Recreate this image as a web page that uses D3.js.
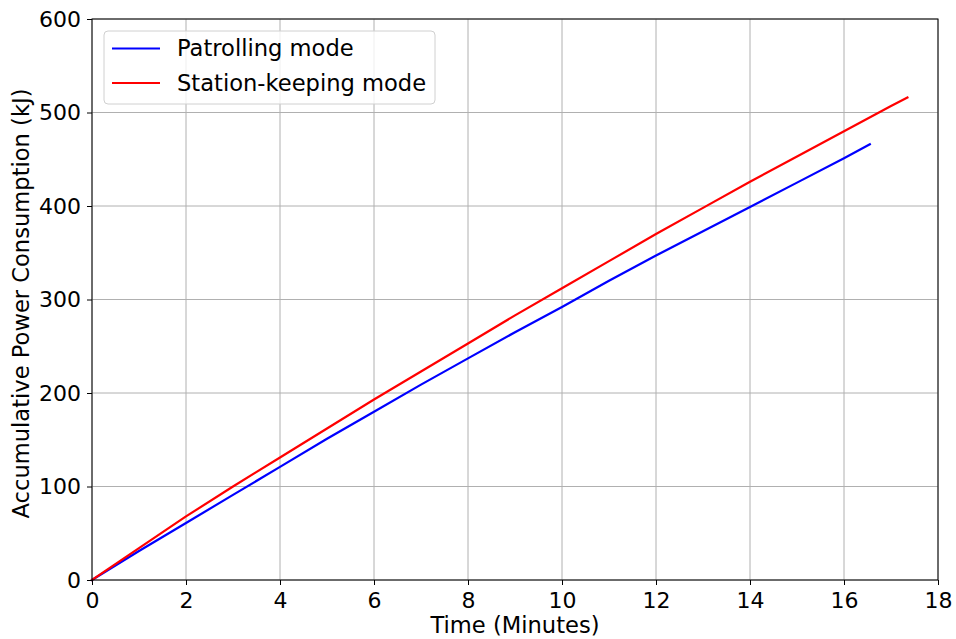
<!DOCTYPE html>
<html>
<head>
<meta charset="utf-8">
<script src="https://cdn.jsdelivr.net/npm/d3@7"></script>
<style>
  body { margin: 0; background: #fff; }
  text { font-family: "DejaVu Sans", sans-serif; }
</style>
</head>
<body>
<div id="chart"></div>
<script>
// data (minutes, kJ)
var patrolTime = [0, 1, 2, 3, 4, 5, 6, 7, 8, 9, 10, 11, 12, 13, 14, 15, 16, 16.55];
var patrolEnergy = [0, 31, 61, 91, 121, 151, 180, 209, 237, 265, 292, 320, 347, 373, 399, 425, 451, 466];
var stationTime = [0, 1, 2, 3, 4, 5, 6, 7, 8, 9, 10, 11, 12, 13, 14, 15, 16, 17, 17.35];
var stationEnergy = [0, 34, 68, 100, 131, 162, 193, 223, 253, 283, 312, 341, 370, 398, 426, 453, 480, 507, 516];
var xTicks = [0, 2, 4, 6, 8, 10, 12, 14, 16, 18];
var yTicks = [0, 100, 200, 300, 400, 500, 600];
var seriesNames = ["Patrolling mode", "Station-keeping mode"];
var seriesColors = ["#0000ff", "#ff0000"];

var fontSize = "22.6px";
var margin = { top: 19, right: 18, bottom: 59, left: 92 },
  width = 956 - margin.left - margin.right,
  height = 639 - margin.top - margin.bottom;

var svg = d3.select("#chart")
  .append("svg")
  .attr("width", 956)
  .attr("height", 639)
  .append("g")
  .attr("transform", "translate(" + margin.left + "," + margin.top + ")");

var x = d3.scaleLinear().domain([0, 18]).range([0, width]);
var y = d3.scaleLinear().domain([0, 600]).range([height, 0]);

// grid
svg.selectAll("vgrid").data(xTicks).enter().append("line")
  .attr("x1", d => x(d)).attr("x2", d => x(d))
  .attr("y1", 0).attr("y2", height)
  .style("stroke", "#b0b0b0").style("stroke-width", 1);
svg.selectAll("hgrid").data(yTicks).enter().append("line")
  .attr("x1", 0).attr("x2", width)
  .attr("y1", d => y(d)).attr("y2", d => y(d))
  .style("stroke", "#b0b0b0").style("stroke-width", 1);

// lines
var series = [
  patrolTime.map((t, i) => [t, patrolEnergy[i]]),
  stationTime.map((t, i) => [t, stationEnergy[i]])
];
var line = d3.line().x(d => x(d[0])).y(d => y(d[1]));
svg.selectAll("series").data(series).enter().append("path")
  .attr("d", line)
  .style("fill", "none")
  .style("stroke", (d, i) => seriesColors[i])
  .style("stroke-width", 2.2)
  .style("stroke-linecap", "square");

// axes
var xAxis = svg.append("g")
  .attr("transform", "translate(0," + height + ")")
  .call(d3.axisBottom(x).tickValues(xTicks).tickSize(5).tickPadding(7));
var yAxis = svg.append("g")
  .call(d3.axisLeft(y).tickValues(yTicks).tickSize(5).tickPadding(6));
[xAxis, yAxis].forEach(function (a) {
  a.select(".domain").remove();
  a.selectAll("text").style("font-size", "22px").style("fill", "#000")
    .style("font-family", "DejaVu Sans");
  a.selectAll("line").style("stroke", "#000").style("stroke-width", 1);
});

// frame
svg.append("rect")
  .attr("width", width).attr("height", height)
  .style("fill", "none").style("stroke", "#000").style("stroke-width", 1);

// axis labels
svg.append("text")
  .attr("x", width / 2).attr("y", height + 53)
  .style("text-anchor", "middle").style("font-size", fontSize)
  .text("Time (Minutes)");
svg.append("text")
  .attr("transform", "rotate(-90)")
  .attr("x", -height / 2 - 4).attr("y", -63)
  .style("text-anchor", "middle").style("font-size", fontSize)
  .text("Accumulative Power Consumption (kJ)");

// legend
var legend = svg.append("g").attr("transform", "translate(12,12)");
legend.append("rect")
  .attr("width", 331).attr("height", 73).attr("rx", 4)
  .style("fill", "#fff").style("fill-opacity", 0.8)
  .style("stroke", "#d0d0d0").style("stroke-width", 1);
legend.selectAll("lline").data(seriesNames).enter().append("line")
  .attr("x1", 8).attr("x2", 56)
  .attr("y1", (d, i) => 17.5 + i * 34.5).attr("y2", (d, i) => 17.5 + i * 34.5)
  .style("stroke", (d, i) => seriesColors[i]).style("stroke-width", 2.2);
legend.selectAll("ltext").data(seriesNames).enter().append("text")
  .attr("x", 73).attr("y", (d, i) => 17.5 + i * 34.5)
  .attr("dy", "0.35em")
  .style("font-size", fontSize)
  .text(d => d);
</script>
</body>
</html>
